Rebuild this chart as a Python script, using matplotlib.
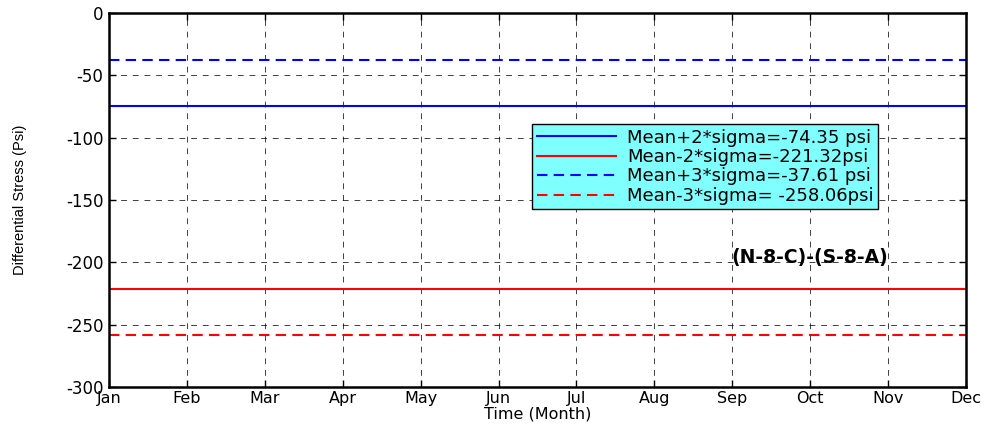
import matplotlib.pyplot as plt

plt.rcParams['font.family'] = ['DejaVu Sans']
plt.rcParams['axes.unicode_minus'] = False

months = ["Jan", "Feb", "Mar", "Apr", "May", "Jun", "Jul", "Aug", "Sep", "Oct", "Nov", "Dec"]
mean_p2 = -74.35
mean_m2 = -221.32
mean_p3 = -37.61
mean_m3 = -258.06
labels = ["Mean+2*sigma=-74.35 psi", "Mean-2*sigma=-221.32psi",
          "Mean+3*sigma=-37.61 psi", "Mean-3*sigma= -258.06psi"]

x = list(range(1, len(months) + 1))

fig = plt.figure(figsize=(9.9, 4.28), dpi=100)
ax = fig.add_axes([109 / 990, 1 - 387 / 428, 857 / 990, 374 / 428])

ax.plot(x, [mean_p2] * len(x), color="blue", lw=1.5, label=labels[0])
ax.plot(x, [mean_m2] * len(x), color="red", lw=1.5, label=labels[1])
ax.plot(x, [mean_p3] * len(x), color="blue", lw=1.5, ls=(0, (5, 3)), label=labels[2])
ax.plot(x, [mean_m3] * len(x), color="red", lw=1.5, ls=(0, (5, 3)), label=labels[3])

ax.set_xlim(1, 12)
ax.set_ylim(-300, 0)
ax.set_xticks(x, labels=months)
ax.set_yticks(range(-300, 1, 50))
ax.tick_params(direction="in", top=True, right=True, labelsize=12, length=5, width=1, pad=4)
ax.tick_params(axis="x", pad=3, labelsize=11.5)
ax.grid(True, color="black", ls=(0, (6, 6)), lw=0.7, alpha=0.75)
for s in ax.spines.values():
    s.set_linewidth(1.8)

ax.set_xlabel("Time (Month)", fontsize=11.5, labelpad=0)
ax.set_ylabel("Differential Stress (Psi)", fontsize=10.5, labelpad=28,
              family=["Liberation Sans Narrow", "Liberation Sans", "DejaVu Sans"])

ax.text(10.0, -196, "(N-8-C)-(S-8-A)", fontsize=13.5, fontweight="bold", ha="center", va="center")

leg = ax.legend(loc="upper left", bbox_to_anchor=(0.494, 0.703), fontsize=13,
                fancybox=False, framealpha=1, facecolor="#80ffff", edgecolor="black",
                handlelength=4.4, labelspacing=0.08, borderpad=0.25, handletextpad=0.6,
                borderaxespad=0)
leg.get_frame().set_linewidth(1.0)

fig.savefig("out.png", dpi=100)
